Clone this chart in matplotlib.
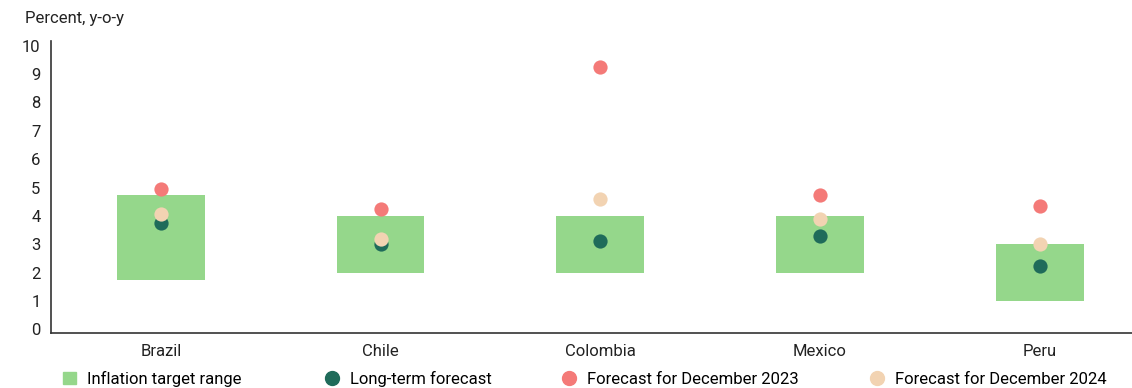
import matplotlib
matplotlib.use("Agg")
import matplotlib.pyplot as plt
from matplotlib.lines import Line2D
from matplotlib.patches import Patch
import numpy as np

plt.rcParams['font.family'] = ['Roboto', 'DejaVu Sans']

countries = ["Brazil", "Chile", "Colombia", "Mexico", "Peru"]
target_low = [1.75, 2.0, 2.0, 2.0, 1.0]
target_high = [4.75, 4.0, 4.0, 4.0, 3.0]
long_term = [3.75, 3.0, 3.1, 3.3, 2.25]
dec_2023 = [4.95, 4.25, 9.25, 4.75, 4.35]
dec_2024 = [4.05, 3.2, 4.6, 3.9, 3.0]

c_box = "#95d78b"
c_long = "#1f6b5a"
c_2023 = "#f47a78"
c_2024 = "#f2d3b2"
c_axis = "#333333"
fs = 12

fig = plt.figure(figsize=(11.32, 3.88), dpi=100)
ax = fig.add_axes([0.045, 0.1418, 0.955, 0.7526])

x = np.arange(len(countries))
ax.bar(x, np.array(target_high) - np.array(target_low), bottom=target_low,
       width=0.4, color=c_box, zorder=1)
ax.scatter(x, long_term, s=105, color=c_long, zorder=3, linewidths=0)
ax.scatter(x, dec_2023, s=105, color=c_2023, zorder=3, linewidths=0)
ax.scatter(x, dec_2024, s=105, color=c_2024, zorder=4, linewidths=0)

ax.set_xlim(-0.5, 4.42)
ax.set_ylim(-0.13, 10.17)
ax.set_yticks(range(0, 11))
ax.set_xticks(x)
ax.set_xticklabels(countries)
ax.tick_params(axis='both', length=0, labelsize=fs, colors="#222222")
ax.tick_params(axis='y', pad=7.5)
ax.tick_params(axis='x', pad=8)
for side in ("top", "right"):
    ax.spines[side].set_visible(False)
for side in ("left", "bottom"):
    ax.spines[side].set_color(c_axis)
    ax.spines[side].set_linewidth(1.2)

fig.text(25 / 1132, 1 - 18 / 388, "Percent, y-o-y", fontsize=fs,
         va="center", ha="left", color="#222222")

entries = [
    (Patch(color=c_box), "Inflation target range", 63),
    (Line2D([], [], marker="o", ls="", ms=10, color=c_long, mec=c_long), "Long-term forecast", 326),
    (Line2D([], [], marker="o", ls="", ms=10, color=c_2023, mec=c_2023), "Forecast for December 2023", 563),
    (Line2D([], [], marker="o", ls="", ms=10, color=c_2024, mec=c_2024), "Forecast for December 2024", 871),
]
for handle, label, px in entries:
    fig.legend([handle], [label], loc="center left",
               bbox_to_anchor=(px / 1132, 1 - 379 / 388), frameon=False,
               fontsize=fs, handlelength=0.75, handleheight=0.75,
               handletextpad=0.7, borderaxespad=0, borderpad=0)

fig.savefig("out.png", dpi=100)
